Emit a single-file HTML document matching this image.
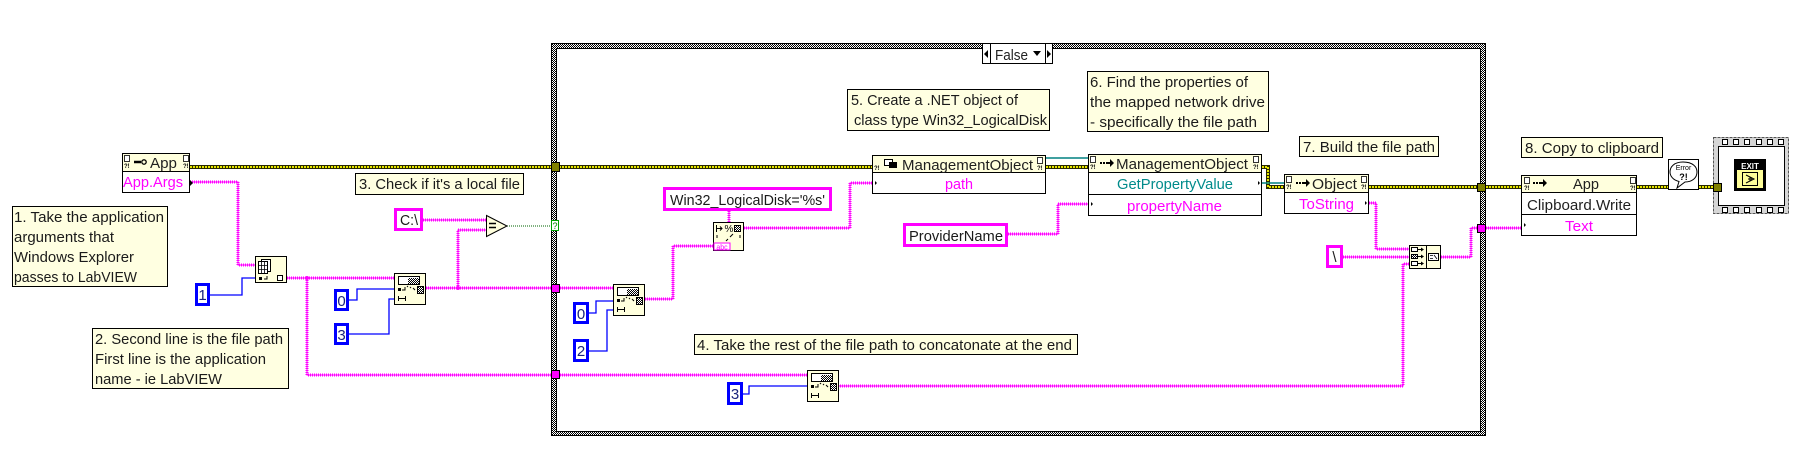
<!DOCTYPE html>
<html><head><meta charset="utf-8">
<style>
html,body{margin:0;padding:0;background:#fff;width:1800px;height:455px;overflow:hidden}
svg{display:block}
.pk{fill:none;stroke:#ff00ff;stroke-width:3;stroke-dasharray:1 1}
.pkc{fill:none;stroke:#ff00ff;stroke-width:1}
.bl{fill:none;stroke:#0000ff;stroke-width:1.3}
.erb{fill:none;stroke:#2a2a00;stroke-width:4}
.ery{fill:none;stroke:#e6e600;stroke-width:2;stroke-dasharray:2 1}
.tl{fill:none;stroke:#008080;stroke-width:1.5}
.cm{fill:#ffffe1;stroke:#000}
.nd{fill:#ffffdd;stroke:#000}
</style></head>
<body>
<svg width="1800" height="455" viewBox="0 0 1800 455" xmlns="http://www.w3.org/2000/svg" font-family="'Liberation Sans', sans-serif">
<defs>
<pattern id="chk" width="2" height="2" patternUnits="userSpaceOnUse"><rect width="2" height="2" fill="#fff"/><rect width="1" height="1" fill="#000"/><rect x="1" y="1" width="1" height="1" fill="#000"/></pattern>
<path id="pinkp" d="M190 182 H238 V265 H255 M287 278 H394 M307 278 V375 H808 M426 288 H613 M458 288 V230 H486 M423 220 H486 M645 299 H673 V246 H713 M729 211 V222 M744 228 H850 V183 H872 M1008 234 H1058 V204 H1088 M1369 203 H1376 V249 H1409 M1343 257 H1409 M838 386 H1403 V264 H1409 M1441 257 H1471 V228 H1521"/>
<path id="errp" d="M190 167 H872 M1046 167 H1088 M1262 167 H1268 V187 H1284 M1369 187 H1521 M1637 187 H1668 M1699 187 H1713"/>
<g id="ss">
<rect x="0.5" y="0.5" width="31" height="31" fill="#ffffdd" stroke="#000"/>
<rect x="4.5" y="3.5" width="21" height="8" fill="#fff" stroke="#000"/>
<rect x="14" y="5" width="11" height="6" fill="url(#chk)"/>
<rect x="4" y="15" width="3" height="3" fill="#000"/>
<path d="M8 17 h3 v-3 M13 13 l1 1 M16 14 l1 1 M19 15 l2 2" stroke="#000" fill="none"/>
<rect x="23.5" y="13.5" width="6" height="7" fill="url(#chk)" stroke="#000"/>
<path d="M4 25.5 h8 M4.5 23 v5 M11.5 23 v5" stroke="#000" fill="none"/>
</g>
<g id="docq">
<rect x="0.5" y="0.5" width="5" height="6" fill="#fff" stroke="#000" stroke-width="0.8"/>
<text x="0" y="13" font-size="6" font-weight="bold" fill="#000">?!</text>
</g>
</defs>

<!-- Case structure -->
<rect x="551" y="43" width="935" height="393" fill="url(#chk)"/>
<rect x="551.5" y="43.5" width="934" height="392" fill="none" stroke="#000"/>
<rect x="556.5" y="48.5" width="924" height="383" fill="#fff" stroke="#000"/>
<!-- selector -->
<rect x="982.5" y="43.5" width="70" height="20" fill="#fff" stroke="#000"/>
<path d="M990.5 43.5 V63.5 M1045.5 43.5 V63.5" stroke="#000"/>
<polygon points="988,50 984,54 988,58" fill="#000"/>
<polygon points="1047,50 1051,54 1047,58" fill="#000"/>
<text x="995" y="60" font-size="15" fill="#222" textLength="33" lengthAdjust="spacingAndGlyphs">False</text>
<polygon points="1033,51 1041,51 1037,56" fill="#000"/>

<!-- wires -->
<use href="#errp" class="erb"/>
<use href="#errp" class="ery"/>
<use href="#pinkp" class="pk"/>
<use href="#pinkp" class="pkc"/>
<path class="bl" d="M210 295 H242 V278 H255 M349 300 H357 V289 H394 M349 334 H389 V299 H394 M589 313 H596 V301 H613 M589 351 H607 V310 H613 M743 394 H749 V386 H808"/>
<path class="tl" d="M1046 158 H1088 M1262 183 H1284"/>
<path d="M507 226 H551" stroke="#006600" stroke-width="1" stroke-dasharray="1 1" fill="none"/>
<circle cx="307" cy="278" r="2" fill="#ff00ff"/>
<circle cx="458" cy="288" r="2" fill="#ff00ff"/>

<!-- tunnels -->
<rect x="551.5" y="162.5" width="8" height="9" fill="#808000" stroke="#000"/>
<rect x="551.5" y="284.5" width="8" height="8" fill="#ff00ff" stroke="#000"/>
<rect x="551.5" y="370.5" width="8" height="8" fill="#ff00ff" stroke="#000"/>
<rect x="551.5" y="220.5" width="7" height="10" fill="#fff" stroke="#00a000"/>
<text x="555" y="229" font-size="9" fill="#008000" text-anchor="middle">?</text>
<rect x="1477.5" y="183.5" width="8" height="8" fill="#808000" stroke="#000"/>
<rect x="1477.5" y="224.5" width="8" height="8" fill="#ff00ff" stroke="#000"/>

<!-- comments -->
<g font-size="15" fill="#1a1a1a" lengthAdjust="spacingAndGlyphs">
<rect class="cm" x="12.5" y="206.5" width="155" height="80"/>
<text x="14" y="222" textLength="150" lengthAdjust="spacingAndGlyphs">1. Take the application</text>
<text x="14" y="242" textLength="100" lengthAdjust="spacingAndGlyphs">arguments that</text>
<text x="14" y="262" textLength="120" lengthAdjust="spacingAndGlyphs">Windows Explorer</text>
<text x="14" y="282" textLength="123" lengthAdjust="spacingAndGlyphs">passes to LabVIEW</text>
<rect class="cm" x="92.5" y="328.5" width="196" height="60"/>
<text x="95" y="344" textLength="188" lengthAdjust="spacingAndGlyphs">2. Second line is the file path</text>
<text x="95" y="364" textLength="171" lengthAdjust="spacingAndGlyphs">First line is the application</text>
<text x="95" y="384" textLength="127" lengthAdjust="spacingAndGlyphs">name - ie LabVIEW</text>
<rect class="cm" x="355.5" y="173.5" width="168" height="21"/>
<text x="359" y="189" textLength="161" lengthAdjust="spacingAndGlyphs">3. Check if it's a local file</text>
<rect class="cm" x="694.5" y="334.5" width="383" height="20"/>
<text x="697" y="350" textLength="375" lengthAdjust="spacingAndGlyphs">4. Take the rest of the file path to concatonate at the end</text>
<rect class="cm" x="847.5" y="89.5" width="202" height="41"/>
<text x="851" y="105" textLength="167" lengthAdjust="spacingAndGlyphs">5. Create a .NET object of</text>
<text x="854" y="125" textLength="193" lengthAdjust="spacingAndGlyphs">class type Win32_LogicalDisk</text>
<rect class="cm" x="1087.5" y="71.5" width="181" height="60"/>
<text x="1090" y="87" textLength="158" lengthAdjust="spacingAndGlyphs">6. Find the properties of</text>
<text x="1090" y="107" textLength="175" lengthAdjust="spacingAndGlyphs">the mapped network drive</text>
<text x="1090" y="127" textLength="167" lengthAdjust="spacingAndGlyphs">- specifically the file path</text>
<rect class="cm" x="1299.5" y="136.5" width="139" height="20"/>
<text x="1303" y="152" textLength="132" lengthAdjust="spacingAndGlyphs">7. Build the file path</text>
<rect class="cm" x="1521.5" y="137.5" width="141" height="20"/>
<text x="1525" y="153" textLength="134" lengthAdjust="spacingAndGlyphs">8. Copy to clipboard</text>
</g>

<!-- App node (left) -->
<rect x="122.5" y="153.5" width="67" height="39" fill="#fff" stroke="#000"/>
<rect class="nd" x="122.5" y="153.5" width="67" height="18"/>
<use href="#docq" x="124" y="155"/>
<use href="#docq" x="183" y="155"/>
<path d="M134 162 H141" stroke="#000" stroke-width="2.5"/>
<circle cx="144" cy="162" r="2.2" fill="none" stroke="#000" stroke-width="1.3"/>
<text x="150" y="168" font-size="15" fill="#1f1f1f" textLength="27" lengthAdjust="spacingAndGlyphs">App</text>
<text x="123" y="187" font-size="15" fill="#ff00ff" textLength="60" lengthAdjust="spacingAndGlyphs">App.Args</text>
<polygon points="190,180 193,183 190,186" fill="#000"/>

<!-- Index Array -->
<rect class="nd" x="255.5" y="256.5" width="31" height="26"/>
<rect x="261.5" y="259.5" width="9" height="12" fill="#fff" stroke="#000"/>
<rect x="258.5" y="261.5" width="9" height="12" fill="#fff" stroke="#000"/>
<path d="M261.5 262 V273 M264.5 262 V273 M259 265.5 H267 M259 269.5 H267" stroke="#000" fill="none" stroke-width="0.8"/>
<rect x="259" y="277" width="3" height="3" fill="#000"/>
<path d="M264 279 h3 v-3" stroke="#000" fill="none"/>
<rect x="277.5" y="275.5" width="5" height="5" fill="#fff" stroke="#000"/>

<!-- constants ints -->
<g font-size="15" fill="#1a237e" text-anchor="middle">
<rect x="196.5" y="284.5" width="12" height="20" fill="#fff" stroke="#0000ff" stroke-width="3"/><text x="202.5" y="300">1</text>
<rect x="335.5" y="290.5" width="12" height="19" fill="#fff" stroke="#0000ff" stroke-width="3"/><text x="341.5" y="306">0</text>
<rect x="335.5" y="324.5" width="12" height="19" fill="#fff" stroke="#0000ff" stroke-width="3"/><text x="341.5" y="340">3</text>
<rect x="574.5" y="303.5" width="13" height="19" fill="#fff" stroke="#0000ff" stroke-width="3"/><text x="581" y="319">0</text>
<rect x="574.5" y="340.5" width="13" height="20" fill="#fff" stroke="#0000ff" stroke-width="3"/><text x="581" y="356">2</text>
<rect x="728.5" y="383.5" width="13" height="20" fill="#fff" stroke="#0000ff" stroke-width="3"/><text x="735" y="399">3</text>
</g>

<!-- string constants -->
<g font-size="15" fill="#1a1a1a">
<rect x="395.5" y="209.5" width="26" height="20" fill="#fff" stroke="#ff00ff" stroke-width="3"/><text x="400" y="225" textLength="18" lengthAdjust="spacingAndGlyphs">C:\</text>
<rect x="664.5" y="188.5" width="166" height="21" fill="#fff" stroke="#ff00ff" stroke-width="3"/><text x="670" y="205" textLength="155" lengthAdjust="spacingAndGlyphs">Win32_LogicalDisk='%s'</text>
<rect x="904.5" y="224.5" width="102" height="21" fill="#fff" stroke="#ff00ff" stroke-width="3"/><text x="909" y="241" textLength="94" lengthAdjust="spacingAndGlyphs">ProviderName</text>
<rect x="1327.5" y="246.5" width="14" height="20" fill="#fff" stroke="#ff00ff" stroke-width="3"/><text x="1334.5" y="262" text-anchor="middle">\</text>
</g>

<!-- equals -->
<polygon points="486.5,215.5 507,226 486.5,236.5" fill="#ffffdd" stroke="#000"/>
<path d="M489 223.5 H496 M489 227.5 H496" stroke="#000" stroke-width="1.6"/>

<!-- string subsets -->
<use href="#ss" x="394" y="273"/>
<use href="#ss" x="613" y="284"/>
<use href="#ss" x="807" y="370"/>

<!-- Format into string -->
<rect class="nd" x="713.5" y="222.5" width="30" height="28"/>
<path d="M716.5 225 V232 M716.5 228.5 H722 M720 226.5 l2 2 l-2 2" stroke="#000" fill="none"/>
<text x="729" y="232" font-size="10" fill="#000" text-anchor="middle">%</text>
<rect x="734.5" y="225.5" width="6" height="6" fill="url(#chk)" stroke="#000"/>
<path d="M717 235 v3 M740 235 v3 M726 241 l2 -2 M730 237 l3 -3" stroke="#000" fill="none"/>
<rect x="714" y="243" width="16" height="7" fill="#fff" stroke="#ff00ff"/>
<text x="722" y="249.5" font-size="7" fill="#ff00ff" text-anchor="middle">abc</text>

<!-- ManagementObject 1 -->
<rect x="872.5" y="155.5" width="173" height="38" fill="#fff" stroke="#000"/>
<rect class="nd" x="872.5" y="155.5" width="173" height="17"/>
<text x="874" y="170" font-size="6" font-weight="bold">?!</text>
<rect x="884.5" y="159.5" width="8" height="6" fill="#fff" stroke="#000"/>
<rect x="889.5" y="162.5" width="7" height="5" fill="#000" stroke="#000"/>
<text x="902" y="170" font-size="15" fill="#1f1f1f" textLength="131" lengthAdjust="spacingAndGlyphs">ManagementObject</text>
<use href="#docq" x="1037" y="157"/>
<text x="945" y="189" font-size="15" fill="#ff00ff" textLength="28" lengthAdjust="spacingAndGlyphs">path</text>
<polygon points="875,181 877,183 875,185" fill="#000"/>

<!-- ManagementObject 2 -->
<rect x="1088.5" y="154.5" width="173" height="61" fill="#fff" stroke="#000"/>
<rect class="nd" x="1088.5" y="154.5" width="173" height="18"/>
<path d="M1088.5 194.5 H1261.5" stroke="#000"/>
<use href="#docq" x="1090" y="156"/>
<use href="#docq" x="1253" y="156"/>
<path d="M1100 163 h2 M1103 163 h2 M1106 163 h5" stroke="#000" stroke-width="2"/>
<polygon points="1110,159 1114,163 1110,167" fill="#000"/>
<text x="1116" y="169" font-size="15" fill="#1f1f1f" textLength="132" lengthAdjust="spacingAndGlyphs">ManagementObject</text>
<text x="1117" y="189" font-size="15" fill="#008b8b" textLength="116" lengthAdjust="spacingAndGlyphs">GetPropertyValue</text>
<text x="1127" y="211" font-size="15" fill="#ff00ff" textLength="95" lengthAdjust="spacingAndGlyphs">propertyName</text>
<polygon points="1258,181 1260,183 1258,185" fill="#000"/>
<polygon points="1091,202 1093,204 1091,206" fill="#000"/>

<!-- Object node -->
<rect x="1284.5" y="174.5" width="84" height="39" fill="#fff" stroke="#000"/>
<rect class="nd" x="1284.5" y="174.5" width="84" height="18"/>
<use href="#docq" x="1286" y="176"/>
<use href="#docq" x="1361" y="176"/>
<path d="M1296 183 h2 M1299 183 h2 M1302 183 h5" stroke="#000" stroke-width="2"/>
<polygon points="1306,179 1310,183 1306,187" fill="#000"/>
<text x="1312" y="189" font-size="15" fill="#1f1f1f" textLength="45" lengthAdjust="spacingAndGlyphs">Object</text>
<text x="1299" y="209" font-size="15" fill="#ff00ff" textLength="55" lengthAdjust="spacingAndGlyphs">ToString</text>
<polygon points="1365,201 1367,203 1365,205" fill="#000"/>

<!-- Concatenate -->
<rect class="nd" x="1409.5" y="245.5" width="31" height="23"/>
<path d="M1426.5 245.5 V268.5" stroke="#000"/>
<rect x="1411.5" y="247.5" width="6" height="4" fill="#fff" stroke="#000"/>
<rect x="1411.5" y="254.5" width="6" height="4" fill="url(#chk)" stroke="#000"/>
<rect x="1411.5" y="261.5" width="6" height="4" fill="#fff" stroke="#000"/>
<path d="M1418 249.5 h5 M1418 256.5 h5 M1418 263.5 h5" stroke="#000"/>
<polygon points="1421,247.5 1424,249.5 1421,251.5" fill="#000"/>
<polygon points="1421,254.5 1424,256.5 1421,258.5" fill="#000"/>
<polygon points="1421,261.5 1424,263.5 1421,265.5" fill="#000"/>
<rect x="1428.5" y="253.5" width="10" height="7" fill="#fff" stroke="#000"/>
<path d="M1430 255.5 h3 M1430 258.5 h3 M1434 255 l3 4" stroke="#000" stroke-width="0.8"/>

<!-- App node (right) -->
<rect x="1521.5" y="175.5" width="115" height="60" fill="#fff" stroke="#000"/>
<rect class="nd" x="1521.5" y="175.5" width="115" height="17"/>
<path d="M1521.5 214.5 H1636.5" stroke="#000"/>
<use href="#docq" x="1524" y="177"/>
<use href="#docq" x="1630" y="177"/>
<path d="M1533 183 h2 M1536 183 h2 M1539 183 h5" stroke="#000" stroke-width="2"/>
<polygon points="1543,179 1547,183 1543,187" fill="#000"/>
<text x="1573" y="189" font-size="15" fill="#1f1f1f" textLength="26" lengthAdjust="spacingAndGlyphs">App</text>
<text x="1527" y="210" font-size="15" fill="#1f1f1f" textLength="104" lengthAdjust="spacingAndGlyphs">Clipboard.Write</text>
<text x="1565" y="231" font-size="15" fill="#ff00ff" textLength="28" lengthAdjust="spacingAndGlyphs">Text</text>
<polygon points="1524,223 1526,225 1524,227" fill="#000"/>

<!-- Error handler -->
<rect x="1668.5" y="159.5" width="30" height="30" fill="#fff" stroke="#000"/>
<path d="M1683 162 C1693 162 1697 167 1697 172 C1697 178 1692 182 1685 182 L1677 188 L1679 181.5 C1673 180 1670 176 1670 172 C1670 167 1674 162 1683 162 Z" fill="#fff" stroke="#000"/>
<text x="1683.5" y="170" font-size="7" text-anchor="middle" fill="#000">Error</text>
<text x="1683.5" y="180" font-size="9" font-weight="bold" text-anchor="middle" fill="#000">?!</text>

<!-- Flat sequence -->
<rect x="1713.5" y="137.5" width="75" height="76" fill="#d6d6d6" stroke="#555" stroke-dasharray="3 1"/>
<rect x="1718.5" y="146.5" width="66" height="59" fill="#fff" stroke="#000"/>
<g fill="#fff" stroke="#000">
<rect x="1722.5" y="139.5" width="5" height="5"/><rect x="1733.5" y="139.5" width="5" height="5"/><rect x="1744.5" y="139.5" width="5" height="5"/><rect x="1756.5" y="139.5" width="5" height="5"/><rect x="1767.5" y="139.5" width="5" height="5"/><rect x="1778.5" y="139.5" width="5" height="5"/>
<rect x="1722.5" y="207.5" width="5" height="5"/><rect x="1733.5" y="207.5" width="5" height="5"/><rect x="1744.5" y="207.5" width="5" height="5"/><rect x="1756.5" y="207.5" width="5" height="5"/><rect x="1767.5" y="207.5" width="5" height="5"/><rect x="1778.5" y="207.5" width="5" height="5"/>
</g>
<rect x="1713.5" y="183.5" width="8" height="8" fill="#808000" stroke="#000"/>
<!-- EXIT -->
<rect x="1734" y="159" width="32" height="32" fill="#000"/>
<rect x="1737" y="162" width="26" height="26" fill="#ffff99"/>
<rect x="1737" y="162" width="26" height="8" fill="#000"/>
<text x="1750" y="169" font-size="8" font-weight="bold" fill="#fff" text-anchor="middle">EXIT</text>
<rect x="1742.5" y="172.5" width="15" height="13" fill="#ffff99" stroke="#000"/>
<path d="M1746 175 l8 4 l-8 4 M1748 179 h4 M1750 177 v4" stroke="#000" fill="none"/>
</svg>
</body></html>
